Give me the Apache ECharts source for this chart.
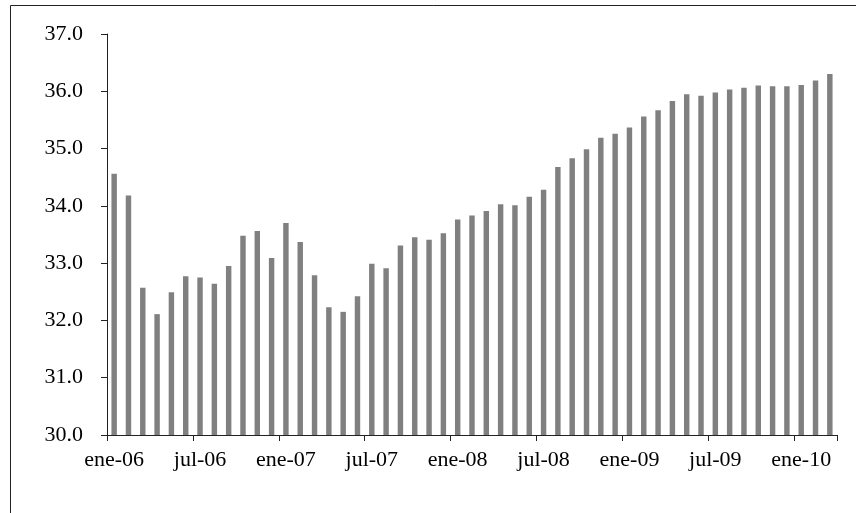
<!DOCTYPE html>
<html>
<head>
<meta charset="utf-8">
<script src="https://cdn.jsdelivr.net/npm/echarts@6/dist/echarts.min.js"></script>
<style>
html,body{margin:0;padding:0;background:#fff;}
#chart{width:856px;height:513px;}
</style>
</head>
<body>
<div id="chart"></div>
<script>
var categories = [
  'ene-06','feb-06','mar-06','abr-06','may-06','jun-06','jul-06','ago-06','sep-06','oct-06','nov-06','dic-06',
  'ene-07','feb-07','mar-07','abr-07','may-07','jun-07','jul-07','ago-07','sep-07','oct-07','nov-07','dic-07',
  'ene-08','feb-08','mar-08','abr-08','may-08','jun-08','jul-08','ago-08','sep-08','oct-08','nov-08','dic-08',
  'ene-09','feb-09','mar-09','abr-09','may-09','jun-09','jul-09','ago-09','sep-09','oct-09','nov-09','dic-09',
  'ene-10','feb-10','mar-10'
];
var values = [
  34.56, 34.18, 32.57, 32.11, 32.49, 32.77, 32.75, 32.64, 32.95, 33.48, 33.56, 33.09,
  33.70, 33.37, 32.79, 32.23, 32.15, 32.42, 32.99, 32.91, 33.31, 33.45, 33.41, 33.52,
  33.76, 33.83, 33.91, 34.03, 34.01, 34.16, 34.28, 34.68, 34.83, 34.99, 35.19, 35.26,
  35.37, 35.56, 35.67, 35.83, 35.95, 35.92, 35.98, 36.03, 36.06, 36.10, 36.09, 36.09,
  36.11, 36.19, 36.30
];
var yMin = 30, yMax = 37, yStep = 1;

var font = '"Liberation Serif", "Times New Roman", serif';
var chart = echarts.init(document.getElementById('chart'), null, {renderer: 'canvas'});
chart.setOption({
  animation: false,
  backgroundColor: '#ffffff',
  grid: {left: 107, right: 19, top: 34, bottom: 78, containLabel: false},
  xAxis: {
    type: 'category',
    data: categories,
    boundaryGap: true,
    axisLine: {show: true, lineStyle: {color: '#222', width: 1}},
    axisTick: {show: true, interval: function (i) { return i % 6 === 0; }, length: 6, lineStyle: {color: '#222'}},
    axisLabel: {interval: 5, color: '#000', fontFamily: font, fontSize: 22, margin: 14},
    splitLine: {show: false}
  },
  yAxis: {
    type: 'value',
    min: yMin, max: yMax, interval: yStep,
    axisLine: {show: true, lineStyle: {color: '#222', width: 1}},
    axisTick: {show: true, inside: false, length: 6, lineStyle: {color: '#222'}},
    axisLabel: {color: '#000', fontFamily: font, fontSize: 22, margin: 24,
      formatter: function (v) { return v.toFixed(1); }},
    splitLine: {show: false}
  },
  series: [{
    type: 'bar',
    data: values,
    barWidth: '38%',
    itemStyle: {color: '#808080'}
  }],
  graphic: [{
    type: 'rect',
    shape: {x: 10.5, y: 5.5, width: 900, height: 600},
    style: {fill: 'none', stroke: '#222', lineWidth: 1},
    silent: true,
    z: 100
  }]
});
</script>
</body>
</html>
